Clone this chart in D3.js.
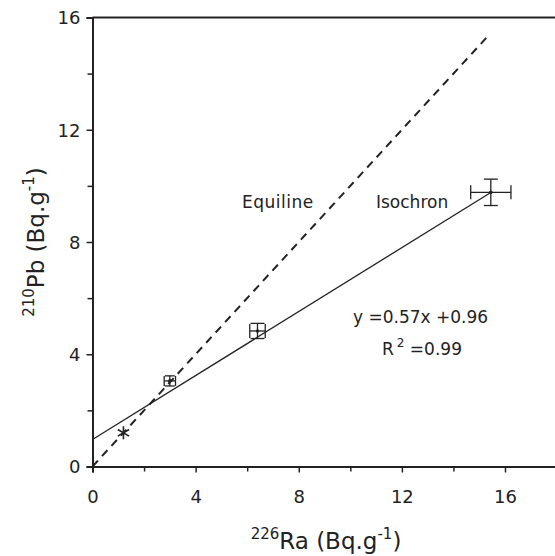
<!DOCTYPE html>
<html><head><meta charset="utf-8">
<script src="https://cdn.jsdelivr.net/npm/d3@7/dist/d3.min.js"></script>
<style>body{margin:0;background:#fff}svg{display:block}text{font-family:"DejaVu Sans",Verdana,sans-serif;fill:#222}</style>
</head><body>
<svg id="c" width="555" height="556"></svg>
<script>
// data
const ra = [1.2, 3.0, 6.4, 15.45];
const pb = [1.2, 3.05, 4.83, 9.77];
const raErr = [0.12, 0.22, 0.3, 0.78];
const pbErr = [0.12, 0.18, 0.27, 0.47];
const xTicks = [0, 4, 8, 12, 16];
const yTicks = [0, 4, 8, 12, 16];
const slope = 0.57, intercept = 0.96;
const equiline = [[0, 0], [15.4, 15.4]];
const isochron = [[0, intercept], [15.45, slope * 15.45 + intercept]];

const svg = d3.select("#c");
const m = {l: 92.5, r: 556, t: 17.5, b: 466.5};
const x = d3.scaleLinear().domain([0, 18]).range([m.l, m.l + (505 - 92.5) * 18 / 16]);
const y = d3.scaleLinear().domain([0, 16]).range([m.b, m.t]);

// frame top line
svg.append("line").attr("x1", x(0)).attr("x2", 555).attr("y1", y(16)).attr("y2", y(16))
  .attr("stroke", "#222").attr("stroke-width", 2);

// axes
const xa = svg.append("g").attr("transform", `translate(0,${m.b})`)
  .call(d3.axisBottom(x).tickValues(d3.range(0, 19, 2)).tickSize(6).tickFormat(d => xTicks.includes(d) ? d : ""));
const ya = svg.append("g").attr("transform", `translate(${m.l},0)`)
  .call(d3.axisLeft(y).tickValues(d3.range(0, 17, 2)).tickSize(6).tickFormat(d => yTicks.includes(d) ? d : ""));
[xa, ya].forEach(g => {
  g.select(".domain").attr("stroke", "#222").attr("stroke-width", 2);
  g.selectAll(".tick line").attr("stroke", "#222").attr("stroke-width", 1.5);
  g.selectAll(".tick text").attr("font-size", 18).attr("fill", "#222").style("font-family", "DejaVu Sans, Verdana, sans-serif");
});
xa.selectAll(".tick text").attr("dy", "1.5em");
xa.selectAll(".tick line").filter(d => !xTicks.includes(d)).attr("y2", 5);
ya.selectAll(".tick text").attr("dy", "0.35em").attr("x", -12);
ya.selectAll(".tick line").filter(d => !yTicks.includes(d)).attr("x2", -5);

const line = d3.line().x(d => x(d[0])).y(d => y(d[1]));
svg.append("path").attr("d", line(equiline)).attr("fill", "none").attr("stroke", "#222")
  .attr("stroke-width", 2).attr("stroke-dasharray", "8,6");
svg.append("path").attr("d", line(isochron)).attr("fill", "none").attr("stroke", "#222")
  .attr("stroke-width", 1.3);

// error bars
ra.forEach((v, i) => {
  if (i === 0) {
    svg.append("path").attr("d", d3.symbol(d3.symbolAsterisk, 120)())
      .attr("transform", `translate(${x(v)},${y(pb[i])})`).attr("stroke", "#222").attr("stroke-width", 1.6).attr("fill", "none");
    return;
  }
  const g = svg.append("g").attr("stroke", "#222").attr("stroke-width", 1.3);
  const cx = x(v), cy = y(pb[i]);
  const x0 = x(v - raErr[i]), x1 = x(v + raErr[i]);
  const y0 = y(pb[i] - pbErr[i]), y1 = y(pb[i] + pbErr[i]);
  const c = i === 1 ? 5 : 7;
  g.append("line").attr("x1", x0).attr("x2", x1).attr("y1", cy).attr("y2", cy);
  g.append("line").attr("x1", cx).attr("x2", cx).attr("y1", y0).attr("y2", y1);
  g.append("line").attr("x1", x0).attr("x2", x0).attr("y1", cy - c).attr("y2", cy + c);
  g.append("line").attr("x1", x1).attr("x2", x1).attr("y1", cy - c).attr("y2", cy + c);
  g.append("line").attr("x1", cx - c).attr("x2", cx + c).attr("y1", y0).attr("y2", y0);
  g.append("line").attr("x1", cx - c).attr("x2", cx + c).attr("y1", y1).attr("y2", y1);
  svg.append("circle").attr("cx", cx).attr("cy", cy).attr("r", 1.8).attr("fill", "#222");
});

// annotations
const fs = 17;
svg.append("text").attr("x", 242).attr("y", 208).attr("font-size", fs).attr("letter-spacing", 0.5).text("Equiline");
svg.append("text").attr("x", 376).attr("y", 208).attr("font-size", fs).text("Isochron");
svg.append("text").attr("x", 353).attr("y", 323).attr("font-size", fs).text("y =0.57x +0.96");
const r2 = svg.append("text").attr("x", 382).attr("y", 355).attr("font-size", fs);
r2.append("tspan").text("R");
r2.append("tspan").attr("dy", -8).attr("font-size", 12).attr("dx", 3).text("2");
r2.append("tspan").attr("dy", 8).text(" =0.99");

// axis titles
const xt = svg.append("text").attr("x", 326).attr("y", 549).attr("text-anchor", "middle").attr("font-size", 23);
xt.append("tspan").attr("font-size", 15).attr("dy", -10).text("226");
xt.append("tspan").attr("dy", 10).text("Ra (Bq.g");
xt.append("tspan").attr("font-size", 15).attr("dy", -10).text("-1");
xt.append("tspan").attr("dy", 10).text(")");

const yt = svg.append("text").attr("transform", "translate(44,242) rotate(-90)").attr("text-anchor", "middle").attr("font-size", 23);
yt.append("tspan").attr("font-size", 15).attr("dy", -10).text("210");
yt.append("tspan").attr("dy", 10).text("Pb (Bq.g");
yt.append("tspan").attr("font-size", 15).attr("dy", -10).text("-1");
yt.append("tspan").attr("dy", 10).text(")");
</script>
</body></html>
